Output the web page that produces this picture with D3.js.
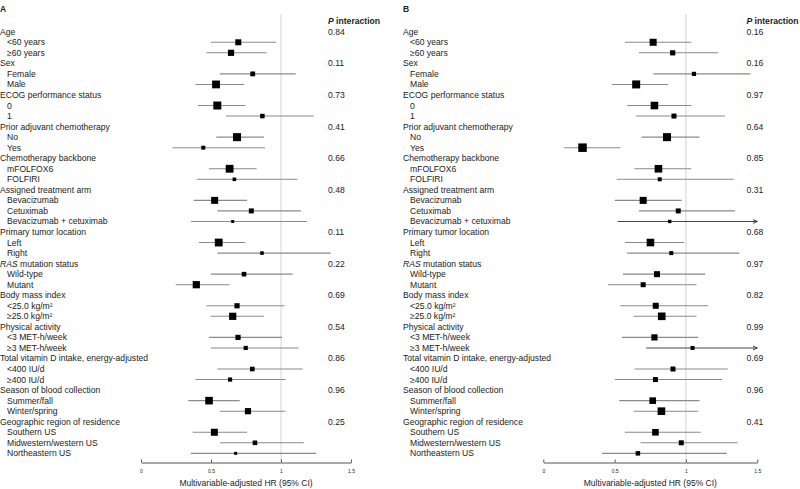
<!DOCTYPE html>
<html><head><meta charset="utf-8">
<script src="https://cdn.jsdelivr.net/npm/d3@7"></script>
<style>
body{margin:0;background:#fff;}
svg text{font-family:"Liberation Sans",Arial,sans-serif;fill:#222;}
</style></head>
<body><svg id="c" width="800" height="489"></svg>
<script>
// ---------- data ----------
const groups = ["Age","Sex","ECOG performance status","Prior adjuvant chemotherapy","Chemotherapy backbone",
  "Assigned treatment arm","Primary tumor location","RAS mutation status","Body mass index","Physical activity",
  "Total vitamin D intake, energy-adjusted","Season of blood collection","Geographic region of residence"];
const subgroups = [["<60 years","≥60 years"],["Female","Male"],["0","1"],["No","Yes"],["mFOLFOX6","FOLFIRI"],
  ["Bevacizumab","Cetuximab","Bevacizumab + cetuximab"],["Left","Right"],["Wild-type","Mutant"],
  ["<25.0 kg/m²","≥25.0 kg/m²"],["<3 MET-h/week","≥3 MET-h/week"],["<400 IU/d","≥400 IU/d"],
  ["Summer/fall","Winter/spring"],["Southern US","Midwestern/western US","Northeastern US"]];
const pA = ["0.84","0.11","0.73","0.41","0.66","0.48","0.11","0.22","0.69","0.54","0.86","0.96","0.25"];
const pB = ["0.16","0.16","0.97","0.64","0.85","0.31","0.68","0.97","0.82","0.99","0.69","0.96","0.41"];
const hrA   = [0.695,0.643, 0.798,0.536, 0.545,0.867, 0.686,0.445, 0.633,0.667, 0.526,0.788,0.655, 0.555,0.864, 0.736,0.395, 0.686,0.655, 0.693,0.748, 0.795,0.636, 0.486,0.764, 0.524,0.814,0.676];
const lowA  = [0.498,0.467, 0.564,0.388, 0.407,0.607, 0.538,0.226, 0.486,0.398, 0.376,0.545,0.357, 0.414,0.545, 0.498,0.248, 0.467,0.498, 0.486,0.498, 0.545,0.388, 0.338,0.564, 0.369,0.564,0.357];
const highA = [0.964,0.898, 1.105,0.738, 0.745,1.233, 0.879,0.886, 0.826,1.117, 0.757,1.143,1.186, 0.745,1.355, 1.083,0.633, 1.026,0.879, 1.007,1.126, 1.155,1.033, 0.705,1.033, 0.757,1.162,1.252];
const wA    = [0.60,0.62, 0.48,0.78, 0.80,0.45, 0.80,0.40, 0.78,0.36, 0.70,0.50,0.30, 0.78,0.36, 0.46,0.72, 0.52,0.72, 0.52,0.42, 0.46,0.42, 0.76,0.62, 0.70,0.46,0.30];
const hrB   = [0.770,0.907, 1.056,0.651, 0.779,0.916, 0.867,0.275, 0.807,0.816, 0.700,0.946,0.886, 0.751,0.897, 0.797,0.700, 0.788,0.830, 0.779,1.046, 0.909,0.786, 0.767,0.828, 0.786,0.967,0.663];
const lowB  = [0.572,0.670, 0.772,0.481, 0.588,0.651, 0.688,0.146, 0.639,0.514, 0.502,0.670,0.521, 0.572,0.588, 0.558,0.453, 0.540,0.632, 0.551,0.721, 0.639,0.502, 0.533,0.632, 0.572,0.681,0.411];
const highB = [1.037,1.225, 1.453,0.874, 1.037,1.274, 1.095,0.540, 1.037,1.335, 0.970,1.344,1.62, 0.988,1.374, 1.135,1.074, 1.156,1.074, 1.086,1.62, 1.293,1.253, 1.095,1.086, 1.104,1.362,1.286];
const wB    = [0.70,0.52, 0.42,0.80, 0.76,0.50, 0.80,0.85, 0.76,0.40, 0.70,0.50,0.34, 0.76,0.40, 0.60,0.50, 0.60,0.76, 0.62,0.40, 0.50,0.50, 0.66,0.76, 0.66,0.50,0.45];
const xTicks = [0, 0.5, 1, 1.5];
const xTitle = "Multivariable-adjusted HR (95% CI)";

// ---------- drawing ----------
const svg = d3.select("#c");
const nRows = 1 + groups.length + subgroups.flat().length;
const y = d3.scaleLinear().domain([0, nRows - 1]).range([21.2, 21.2 + 10.54 * (nRows - 1)]);
const size = d3.scaleLinear().domain([0, 1]).range([0, 10]);

// marker
svg.append("defs").append("marker").attr("id","arr").attr("viewBox","0 0 6 6")
  .attr("refX",5).attr("refY",3).attr("markerWidth",5).attr("markerHeight",5).attr("orient","auto")
  .append("path").attr("d","M0,0.8 L5,3 L0,5.2").attr("fill","none").attr("stroke","#333").attr("stroke-width",1);

function panel(letter, ox, xr, pvals, hr, lo, hi, w, pHeadX) {
  const g = svg.append("g");
  const x = d3.scaleLinear().domain([0, 1.5]).range(xr);
  const fs = 8.6;
  g.append("text").attr("x", ox).attr("y", 12).attr("font-size", 8.5).attr("font-weight","bold").text(letter);
  // reference line
  g.append("line").attr("x1", x(1)).attr("x2", x(1)).attr("y1", 14).attr("y2", 462)
    .attr("stroke", "#d4d4d4").attr("stroke-width", 1);
  // header
  const ht = g.append("text").attr("x", pHeadX).attr("y", y(0)).attr("dy","0.35em").attr("font-size", fs).attr("font-weight","bold");
  ht.append("tspan").attr("font-style","italic").text("P");
  ht.append("tspan").text(" interaction");
  let row = 1, k = 0;
  groups.forEach((gn, gi) => {
    const t = g.append("text").attr("x", ox).attr("y", y(row)).attr("dy","0.35em").attr("font-size", fs);
    if (gn.startsWith("RAS")) { t.append("tspan").attr("font-style","italic").text("RAS"); t.append("tspan").text(gn.slice(3)); }
    else t.text(gn);
    g.append("text").attr("x", pHeadX).attr("y", y(row)).attr("dy","0.35em").attr("font-size", fs).text(pvals[gi]);
    row++;
    subgroups[gi].forEach(s => {
      const yy = y(row);
      g.append("text").attr("x", ox + 7).attr("y", yy).attr("dy","0.35em").attr("font-size", fs).text(s);
      const over = hi[k] > 1.5;
      const ln = g.append("line").attr("x1", x(lo[k])).attr("x2", x(Math.min(hi[k], 1.5)))
        .attr("y1", yy).attr("y2", yy).attr("stroke", over ? "#444" : "#8a8a8a").attr("stroke-width", 1.1);
      if (over) ln.attr("marker-end","url(#arr)");
      const s2 = size(w[k]);
      g.append("rect").attr("x", x(hr[k]) - s2/2).attr("y", yy - s2/2).attr("width", s2).attr("height", s2).attr("fill","#000");
      row++; k++;
    });
  });
  // axis
  const ax = g.append("g").attr("transform","translate(0,462.5)")
    .call(d3.axisBottom(x).tickValues(xTicks).tickFormat(d3.format("")).tickSizeInner(-3).tickSizeOuter(0).tickPadding(7));
  ax.select(".domain").attr("stroke","#555");
  ax.selectAll(".tick line").attr("stroke","#555");
  ax.selectAll(".tick text").attr("font-size", 5).attr("fill","#444").attr("font-family","Liberation Sans, Arial, sans-serif");
  g.append("text").attr("x", (xr[0]+xr[1])/2).attr("y", 486).attr("text-anchor","middle").attr("font-size", 8.5).text(xTitle);
}
panel("A", 0, [141, 351], pA, hrA, lowA, highA, wA, 328);
panel("B", 403, [543.3, 757.3], pB, hrB, lowB, highB, wB, 746.5);
</script></body></html>
